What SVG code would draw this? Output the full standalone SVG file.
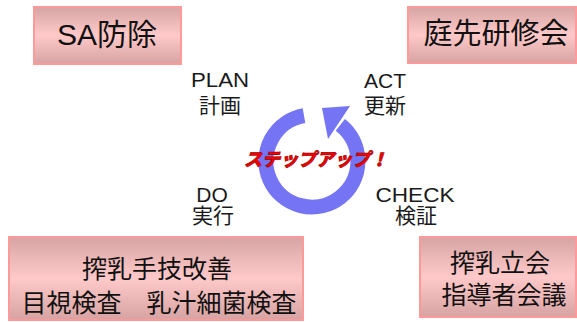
<svg xmlns="http://www.w3.org/2000/svg" width="577" height="322" viewBox="0 0 577 322">
<defs>
<linearGradient id="pink" x1="0" y1="0" x2="0" y2="1">
<stop offset="0" stop-color="#d6a4a4"/>
<stop offset="0.5" stop-color="#ffc9c9"/>
<stop offset="1" stop-color="#d6a2a2"/>
</linearGradient>
<style>
.box{fill:url(#pink);stroke:#ff9a9a;stroke-width:2}
.bt{font-family:"Liberation Sans","Noto Sans CJK JP",sans-serif;fill:#111;text-anchor:middle}
.lbl{font-family:"Liberation Sans","Noto Sans CJK JP",sans-serif;fill:#1a1a1a;text-anchor:middle;font-size:21px}
.ring{fill:none;stroke:#7474f4;stroke-width:15}
.head{fill:#7474f4}
.step{font-family:"Noto Sans CJK JP",sans-serif;font-size:18px;font-weight:900;font-style:italic;fill:#f00000;stroke:#9a0000;stroke-width:0.6;text-anchor:middle}
</style>
</defs>
<rect width="577" height="322" fill="#ffffff"/>

<g id="sa">
<rect class="box" x="34" y="7" width="147" height="57"/>
<text class="bt" x="107" y="45" font-size="30">SA防除</text>
</g>

<g id="niwasaki">
<rect class="box" x="408" y="7" width="168" height="56"/>
<text class="bt" x="496" y="44" font-size="29">庭先研修会</text>
</g>

<g id="sakunyu-gigi">
<rect class="box" x="9" y="237" width="294" height="83"/>
<text class="bt" x="157" y="278" font-size="25">搾乳手技改善</text>
<text class="bt" x="159" y="312" font-size="25">目視検査　乳汁細菌検査</text>
</g>

<g id="sakunyu-tachiai">
<rect class="box" x="420" y="237" width="156" height="80"/>
<text class="bt" x="500" y="272" font-size="25">搾乳立会</text>
<text class="bt" x="504" y="304" font-size="25">指導者会議</text>
</g>

<g id="plan">
<text class="lbl" x="220" y="87" textLength="58" lengthAdjust="spacingAndGlyphs">PLAN</text>
<text class="lbl" x="220" y="113">計画</text>
</g>
<g id="act">
<text class="lbl" x="385" y="88">ACT</text>
<text class="lbl" x="385" y="113">更新</text>
</g>
<g id="do">
<text class="lbl" x="212" y="202">DO</text>
<text class="lbl" x="213" y="223">実行</text>
</g>
<g id="check">
<text class="lbl" x="415" y="202" textLength="79" lengthAdjust="spacingAndGlyphs">CHECK</text>
<text class="lbl" x="416" y="223">検証</text>
</g>

<g id="cycle-arrow">
<path class="ring" d="M 304 115.7 A 46 46 0 1 0 340.3 124.8"/>
<polygon class="head" points="322,108 350,106 328,139"/>
</g>

<g id="stepup">
<text class="step" x="316" y="166">ステップアップ！</text>
</g>
</svg>
